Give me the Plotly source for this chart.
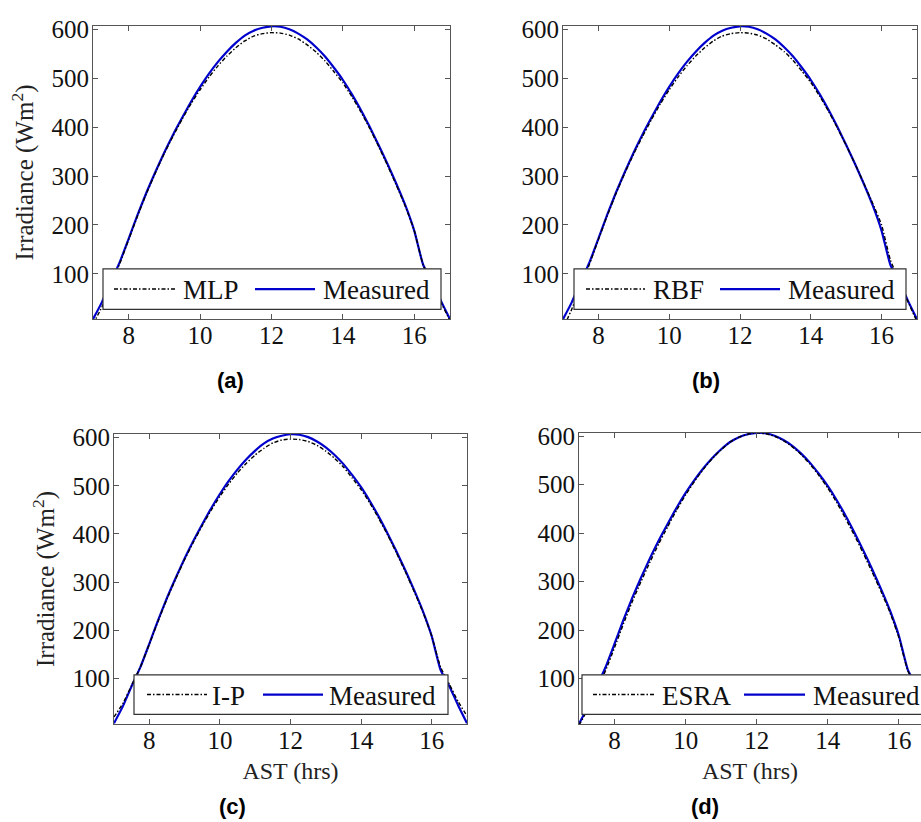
import plotly.graph_objects as go

# ---------------- data ----------------
hours = [7.00, 7.25, 7.50, 7.75, 8.00, 8.25, 8.50, 8.75, 9.00, 9.25,
         9.50, 9.75, 10.00, 10.25, 10.50, 10.75, 11.00, 11.25, 11.50, 11.75,
         12.00, 12.25, 12.50, 12.75, 13.00, 13.25, 13.50, 13.75, 14.00, 14.25,
         14.50, 14.75, 15.00, 15.25, 15.50, 15.75, 16.00, 16.25, 16.50, 16.75,
         17.00]

measured = [7, 42, 84, 124, 172, 221, 267, 309, 349, 386,
            420, 453, 483, 510, 534, 555, 573, 588, 598, 604,
            607, 606, 601, 592, 580, 564, 545, 522, 497, 468,
            436, 401, 364, 325, 284, 240, 188, 118, 84, 44,
            7]

mlp = [-3, 32, 78, 121, 170, 219, 265, 307, 347, 383,
       417, 449, 477, 503, 526, 546, 563, 577, 587, 592,
       594, 593, 589, 581, 569, 554, 536, 514, 491, 463,
       432, 398, 361, 322, 281, 238, 188, 118, 82, 41,
       4]

rbf = [-12, 28, 76, 120, 170, 219, 265, 307, 346, 382,
       416, 448, 477, 503, 526, 546, 563, 577, 587, 592,
       594, 593, 589, 581, 569, 555, 537, 515, 492, 464,
       433, 399, 363, 325, 285, 244, 200, 128, 86, 42,
       2]

ip = [20, 48, 86, 124, 171, 219, 265, 307, 347, 383,
      417, 449, 478, 504, 527, 547, 564, 578, 589, 595,
      597, 596, 592, 584, 572, 557, 539, 516, 492, 464,
      432, 398, 361, 322, 281, 238, 188, 124, 88, 52,
      22]

esra = [4, 37, 78, 117, 164, 213, 259, 301, 341, 379,
        414, 448, 479, 507, 532, 554, 572, 588, 598, 604,
        607, 605, 600, 591, 578, 562, 542, 519, 493, 463,
        430, 395, 358, 319, 279, 236, 184, 116, 81, 42,
        5]

model_names = ["MLP", "RBF", "I-P", "ESRA"]
model_values = [mlp, rbf, ip, esra]
panel_labels = ["(a)", "(b)", "(c)", "(d)"]
x_ticks = [8, 10, 12, 14, 16]
y_ticks = [100, 200, 300, 400, 500, 600]
y_title = "Irradiance (Wm<sup>2</sup>)"
x_title = "AST (hrs)"

# ---------------- layout helpers ----------------
W, H = 921, 822
def px(x):
    return x / W
def py(y):
    return 1 - y / H

# plot areas in window pixels: (left, right, top, bottom)
areas = [(93, 450, 16, 313), (563, 917, 16, 313),
         (114, 467, 429, 723), (579, 921, 428, 723)]
x_ranges = [[7, 17], [7, 17], [7, 17], [7, 16.62]]
y_ranges = [[7, 608], [7, 608], [5, 608], [6, 607]]

BLUE = "#0000CD"
FRAME = "#555555"
SERIF = "Liberation Serif, Times New Roman, serif"

fig = go.Figure()

for i in range(4):
    sfx = "" if i == 0 else str(i + 1)
    fig.add_trace(go.Scatter(
        x=hours, y=measured, mode="lines", name="Measured",
        line=dict(color=BLUE, width=2.2, shape="spline", smoothing=0.5),
        xaxis="x" + sfx, yaxis="y" + sfx, showlegend=False))
    fig.add_trace(go.Scatter(
        x=hours, y=model_values[i], mode="lines", name=model_names[i],
        line=dict(color="black", width=1.4, dash="4px,2px,1.5px,2px",
                  shape="spline", smoothing=0.5),
        xaxis="x" + sfx, yaxis="y" + sfx, showlegend=False))

layout = dict(width=W, height=H, margin=dict(l=0, r=0, t=0, b=0),
              paper_bgcolor="white", plot_bgcolor="white", showlegend=False)

for i, (l, r, t, b) in enumerate(areas):
    sfx = "" if i == 0 else str(i + 1)
    xa = dict(domain=[px(l), min(px(r), 1.0)], range=x_ranges[i],
              anchor="y" + sfx, tickmode="array", tickvals=x_ticks,
              ticks="inside", ticklen=5, tickcolor=FRAME, tickwidth=1,
              showline=True, linecolor=FRAME, linewidth=1,
              mirror="ticks", showgrid=False, zeroline=False,
              ticklabelstandoff=-6,
              tickfont=dict(family=SERIF, size=25, color="#111"))
    ya = dict(domain=[py(b), py(t)], range=y_ranges[i],
              anchor="x" + sfx, tickmode="array", tickvals=y_ticks,
              ticks="inside", ticklen=5, tickcolor=FRAME, tickwidth=1,
              showline=True, linecolor=FRAME, linewidth=1,
              mirror=("ticks" if i != 3 else False),
              showgrid=False, zeroline=False,
              ticklabelstandoff=-2,
              tickfont=dict(family=SERIF, size=25, color="#111"))
    if i in (0, 2):
        ya["title"] = dict(text=y_title, standoff=10,
                           font=dict(family=SERIF, size=25, color="#222"))
    if i in (2, 3):
        xa["title"] = dict(text=x_title, standoff=8,
                           font=dict(family=SERIF, size=24, color="#222"))
    layout["xaxis" + sfx] = xa
    layout["yaxis" + sfx] = ya

fig.update_layout(**layout)

# ---------------- legends (drawn as boxes, sample lines and text) ----------------
legend_boxes = [(103, 441, 262, 303), (574, 906, 262, 303),
                (134, 448, 673, 713), (582, 940, 673, 713)]
model_samples = [(114, 175), (586, 645), (147, 207), (593, 655)]
model_text_x = [181, 651, 210, 660]
meas_samples = [(255, 315), (720, 780), (263, 323), (744, 805)]
meas_text_x = [321, 786, 327, 811]

shapes = []
annotations = []
for i in range(4):
    x0, x1, y0, y1 = legend_boxes[i]
    yc = (y0 + y1) / 2
    shapes.append(dict(type="rect", xref="paper", yref="paper",
                       x0=px(x0), x1=px(x1), y0=py(y1), y1=py(y0),
                       fillcolor="white", line=dict(color="#333333", width=1.2),
                       layer="above"))
    s0, s1 = model_samples[i]
    shapes.append(dict(type="line", xref="paper", yref="paper",
                       x0=px(s0), x1=px(s1), y0=py(yc), y1=py(yc),
                       line=dict(color="black", width=1.6, dash="4px,2px,1.5px,2px"),
                       layer="above"))
    m0, m1 = meas_samples[i]
    shapes.append(dict(type="line", xref="paper", yref="paper",
                       x0=px(m0), x1=px(m1), y0=py(yc), y1=py(yc),
                       line=dict(color=BLUE, width=2.2), layer="above"))
    annotations.append(dict(text=model_names[i], xref="paper", yref="paper",
                            x=px(model_text_x[i]), y=py(yc + 1), xanchor="left",
                            yanchor="middle", showarrow=False,
                            font=dict(family=SERIF, size=27, color="#111")))
    annotations.append(dict(text="Measured", xref="paper", yref="paper",
                            x=px(meas_text_x[i]), y=py(yc + 1), xanchor="left",
                            yanchor="middle", showarrow=False,
                            font=dict(family=SERIF, size=27, color="#111")))

label_pos = [(230, 375), (706, 375), (232, 806), (705, 806)]
for i, (lx, ly) in enumerate(label_pos):
    annotations.append(dict(text="<b>%s</b>" % panel_labels[i], xref="paper",
                            yref="paper", x=px(lx), y=py(ly), xanchor="center",
                            yanchor="middle", showarrow=False,
                            font=dict(family="Liberation Sans, Arial, sans-serif",
                                      size=22, color="black")))

fig.update_layout(shapes=shapes, annotations=annotations)
# remove the page's default body margin so the figure fills the window exactly
fig.write_html("out.html",
               config={"displayModeBar": False},
               post_script="document.body.style.margin='0';"
                           "document.body.style.overflow='hidden';")
